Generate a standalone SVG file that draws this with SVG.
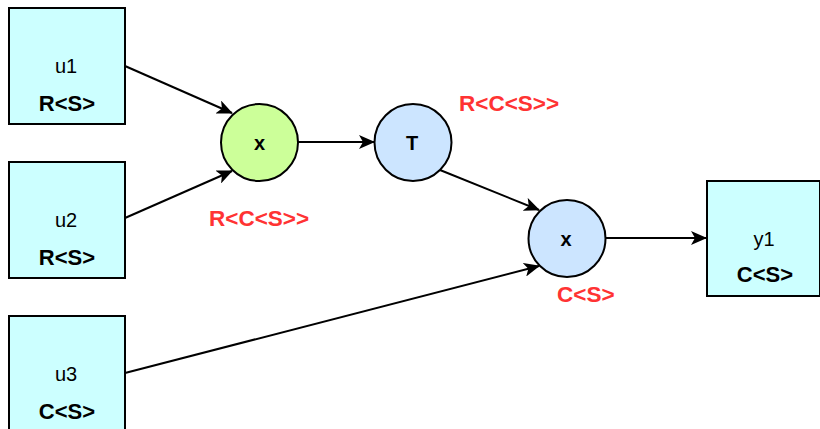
<svg xmlns="http://www.w3.org/2000/svg" width="820" height="429" viewBox="0 0 820 429">
  <defs>
    <marker id="arrow" viewBox="0 0 16 14" refX="15" refY="7" markerWidth="16" markerHeight="14" markerUnits="userSpaceOnUse" orient="auto">
      <path d="M0,0 L16,7 L0,14 L4,7 Z" fill="#000"/>
    </marker>
    <style>
      .box { fill: #ccffff; stroke: #000; stroke-width: 2; }
      .green { fill: #ccff99; stroke: #000; stroke-width: 2; }
      .blue { fill: #cce5ff; stroke: #000; stroke-width: 2; }
      .name { font-family: "Liberation Sans", Arial, sans-serif; font-size: 20px; text-anchor: middle; fill: #000; }
      .type { font-family: "Liberation Sans", Arial, sans-serif; font-size: 22px; font-weight: bold; text-anchor: middle; fill: #000; }
      .op { font-family: "Liberation Sans", Arial, sans-serif; font-size: 20px; font-weight: bold; text-anchor: middle; fill: #000; }
      .lbl { font-family: "Liberation Sans", Arial, sans-serif; font-size: 22.5px; font-weight: bold; fill: #ff3333; }
      .edge { fill: none; stroke: #000; stroke-width: 2; marker-end: url(#arrow); }
    </style>
  </defs>

  <!-- connectors -->
  <g id="edges">
    <path class="edge" d="M125,66 L232,113"/>
    <path class="edge" d="M125,218 L232,171"/>
    <path class="edge" d="M298,142 L374,142"/>
    <path class="edge" d="M440,170 L539,210"/>
    <path class="edge" d="M125,373 L539,266"/>
    <path class="edge" d="M606,238 L706,238"/>
  </g>

  <!-- inputs -->
  <g id="u1">
    <rect class="box" x="9" y="8" width="116" height="116"/>
    <text class="name" x="66" y="73">u1</text>
    <text class="type" x="67" y="111">R&lt;S&gt;</text>
  </g>
  <g id="u2">
    <rect class="box" x="9" y="162" width="116" height="116"/>
    <text class="name" x="66" y="227">u2</text>
    <text class="type" x="67" y="265">R&lt;S&gt;</text>
  </g>
  <g id="u3">
    <rect class="box" x="9" y="316" width="116" height="116"/>
    <text class="name" x="66" y="381">u3</text>
    <text class="type" x="67" y="419">C&lt;S&gt;</text>
  </g>

  <!-- operators -->
  <g id="mul1">
    <circle class="green" cx="259.5" cy="142.5" r="38.5"/>
    <text class="op" x="259.5" y="149.5">x</text>
  </g>
  <g id="transpose">
    <circle class="blue" cx="413" cy="142.5" r="38.5"/>
    <text class="op" x="412" y="149.5">T</text>
  </g>
  <g id="mul2">
    <circle class="blue" cx="567" cy="238.5" r="38.5"/>
    <text class="op" x="566" y="245.5">x</text>
  </g>

  <!-- output -->
  <g id="y1">
    <rect class="box" x="707" y="181" width="113" height="115"/>
    <text class="name" x="764" y="246">y1</text>
    <text class="type" x="765" y="282">C&lt;S&gt;</text>
  </g>

  <!-- type annotations -->
  <g id="types">
    <text class="lbl" x="209" y="226">R&lt;C&lt;S&gt;&gt;</text>
    <text class="lbl" x="459" y="111">R&lt;C&lt;S&gt;&gt;</text>
    <text class="lbl" x="557" y="302">C&lt;S&gt;</text>
  </g>
</svg>
